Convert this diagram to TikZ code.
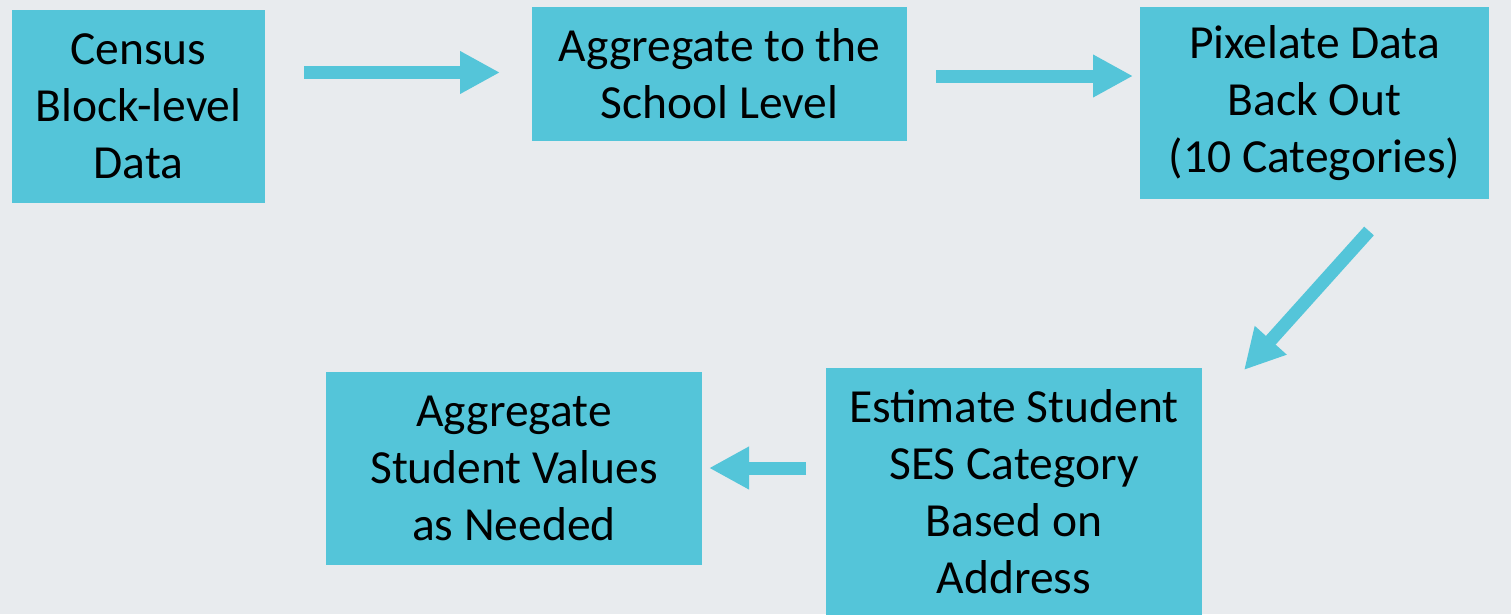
\documentclass[tikz,border=0pt]{standalone}
\usepackage{fontspec}
\setmainfont{Carlito}
\usetikzlibrary{arrows.meta}
\definecolor{boxc}{HTML}{54C5D9}
\definecolor{bgc}{HTML}{E8EBEE}
\tikzset{
  stepbox/.style={fill=boxc, draw=none, inner sep=0pt, align=center,
    font=\fontsize{47.5}{57}\selectfont, text=black},
  flow/.style={draw=boxc, line width=13pt, -{Triangle[length=40pt,width=40pt]}}
}
\begin{document}
\begin{tikzpicture}[x=1pt,y=-1pt]
\fill[bgc] (0,0) rectangle (1511,614);
\useasboundingbox (0,0) rectangle (1511,614);
\node[stepbox, minimum width=253pt, minimum height=193pt] (census) at (138.5,106.5) {Census\\Block-level\\Data};
\node[stepbox, minimum width=375pt, minimum height=134pt] (school) at (719.5,74) {Aggregate to the\\School Level};
\node[stepbox, minimum width=349pt, minimum height=192pt] (pixel) at (1314.5,103) {Pixelate Data\\Back Out\\(10 Categories)};
\node[stepbox, minimum width=376pt, minimum height=247pt] (estimate) at (1014,491.5) {Estimate Student\\SES Category\\Based on\\Address};
\node[stepbox, minimum width=376pt, minimum height=193pt] (aggstud) at (514,468.5) {Aggregate\\Student Values\\as Needed};
\coordinate (a1s) at (304,72.5);
\coordinate (a1e) at (500,72.5);
\coordinate (a2s) at (936,76);
\coordinate (a2e) at (1133,76);
\coordinate (a3s) at (1369,231);
\coordinate (a3e) at (1244,370);
\coordinate (a4s) at (806,468);
\coordinate (a4e) at (709,468);
\draw[flow] (a1s) -- (a1e);
\draw[flow] (a2s) -- (a2e);
\draw[flow] (a3s) -- (a3e);
\draw[flow] (a4s) -- (a4e);
\end{tikzpicture}
\end{document}
